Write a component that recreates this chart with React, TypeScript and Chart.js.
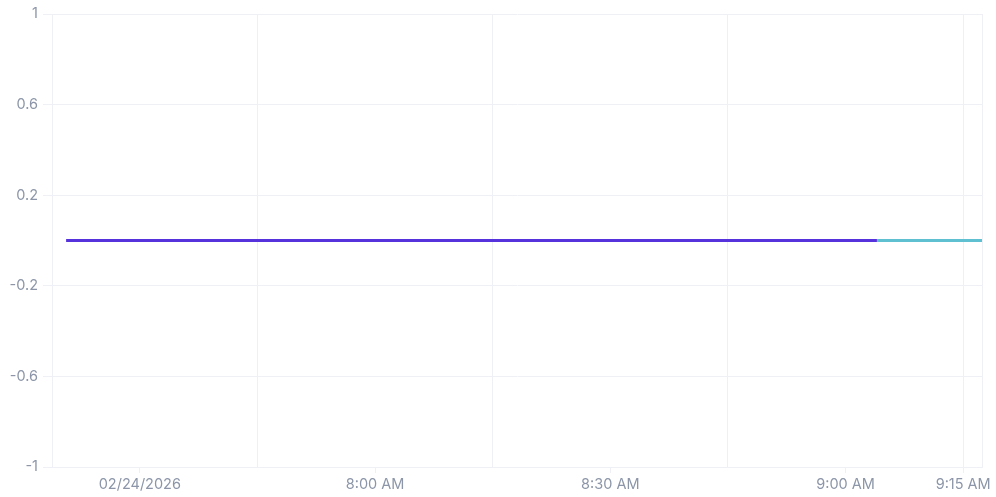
import React, { useEffect, useRef } from "react";
import { Chart, registerables } from "chart.js";

Chart.register(...registerables);

// minutes since 7:00 AM
const X_MIN = 18.8;
const X_MAX = 137.4;
const labelTicks = [30, 60, 90, 120, 135];
const labelTexts = ["02/24/2026", "8:00 AM", "8:30 AM", "9:00 AM", "9:15 AM"];
const gridTicks = [45, 75, 105, 135, 137.4];

const series1X = [20.6, 124];
const series1Y = [0, 0];
const series2X = [124, 137.4];
const series2Y = [0, 0];

const yTicks = [-1, -0.6, -0.2, 0.2, 0.6, 1];

const GRID = "#eef0f5";
const TEXT = "#8c96a8";

export default function App() {
  const ref = useRef<HTMLCanvasElement | null>(null);
  useEffect(() => {
    document.body.style.margin = "0";
    const ctx = ref.current!;
    const chart = new Chart(ctx, {
      type: "line",
      data: {
        datasets: [
          {
            label: "A",
            data: series1X.map((x, i) => ({ x, y: series1Y[i] })),
            borderColor: "#5532dc",
            borderWidth: 3,
            pointRadius: 0,
            xAxisID: "x",
          },
          {
            label: "B",
            data: series2X.map((x, i) => ({ x, y: series2Y[i] })),
            borderColor: "#5ec0d0",
            borderWidth: 3,
            pointRadius: 0,
            xAxisID: "x",
          },
        ],
      },
      options: {
        animation: false,
        responsive: false,
        maintainAspectRatio: false,
        layout: { padding: { top: 14, right: 14, left: 0, bottom: 0 } },
        plugins: { legend: { display: false }, tooltip: { enabled: false } },
        scales: {
          x: {
            type: "linear",
            position: "bottom",
            min: X_MIN,
            max: X_MAX,
            afterBuildTicks: (s: any) => {
              s.ticks = labelTicks.map((v) => ({ value: v }));
            },
            afterFit: (s: any) => {
              s.height = 30;
            },
            grid: {
              drawOnChartArea: false,
              drawTicks: true,
              tickLength: 6,
              color: GRID,
            },
            border: { display: true, color: GRID },
            ticks: {
              autoSkip: false,
              maxRotation: 0,
              padding: 3,
              color: TEXT,
              font: { family: "Inter", size: 14.5 },
              callback: (v: any) => {
                const i = labelTicks.indexOf(Number(v));
                return i >= 0 ? labelTexts[i] : "";
              },
            },
          },
          xg: {
            type: "linear",
            position: "bottom",
            min: X_MIN,
            max: X_MAX,
            afterBuildTicks: (s: any) => {
              s.ticks = gridTicks.map((v) => ({ value: v }));
            },
            afterFit: (s: any) => {
              s.height = 0;
            },
            grid: { drawOnChartArea: true, drawTicks: false, color: GRID },
            border: { display: false },
            ticks: { display: false },
          },
          y: {
            type: "linear",
            min: -1,
            max: 1,
            afterBuildTicks: (s: any) => {
              s.ticks = yTicks.map((v) => ({ value: v }));
            },
            afterFit: (s: any) => {
              s.width = 52;
            },
            grid: { color: GRID, tickLength: 9, drawTicks: true },
            border: { display: true, color: GRID },
            ticks: {
              padding: 5,
              color: TEXT,
              font: { family: "Inter", size: 14.5 },
              callback: (v: any) => String(Math.round(Number(v) * 10) / 10),
            },
          },
        },
      },
    });
    return () => chart.destroy();
  }, []);
  return (
    <div style={{ width: 996, height: 497 }}>
      <canvas ref={ref} width={996} height={497} style={{ display: "block" }} />
    </div>
  );
}
